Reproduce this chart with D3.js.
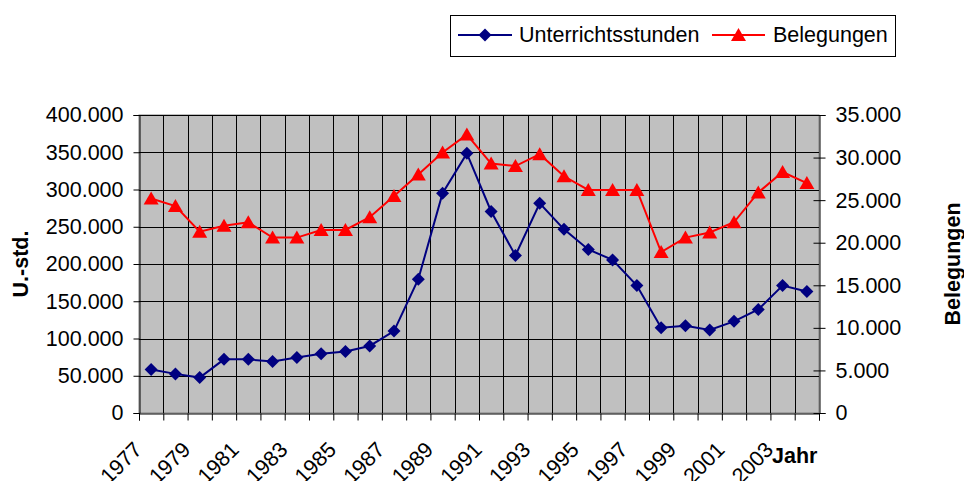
<!DOCTYPE html>
<html>
<head>
<meta charset="utf-8">
<script src="https://cdn.jsdelivr.net/npm/d3@7"></script>
<style>
html, body { margin: 0; padding: 0; background: #fff; }
svg { display: block; font-family: "Liberation Sans", Arial, sans-serif; }
</style>
</head>
<body>
<svg id="chart" width="964" height="481"></svg>
<script>
// ---- data ----
const years = ["1977","1978","1979","1980","1981","1982","1983","1984","1985","1986",
  "1987","1988","1989","1990","1991","1992","1993","1994","1995","1996",
  "1997","1998","1999","2000","2001","2002","2003","2004"];
const unterrichtsstunden = [58500, 52500, 47500, 72000, 72000, 69000, 74500, 79500, 82500, 90000,
  110000, 179500, 295000, 348500, 270500, 211500, 281500, 246500, 219500, 205500,
  171000, 114500, 117000, 111500, 123000, 139000, 171000, 163000];
const belegungen = [25200, 24300, 21300, 22000, 22400, 20600, 20600, 21500, 21500, 23000,
  25500, 28000, 30600, 32700, 29300, 29000, 30400, 27800, 26200, 26200,
  26200, 18900, 20600, 21200, 22400, 25900, 28300, 27000];
const xTickLabels = ["1977","1979","1981","1983","1985","1987","1989","1991","1993","1995","1997","1999","2001","2003"];
const leftTicks = [0, 50000, 100000, 150000, 200000, 250000, 300000, 350000, 400000];
const rightTicks = [0, 5000, 10000, 15000, 20000, 25000, 30000, 35000];
const seriesNames = ["Unterrichtsstunden", "Belegungen"];
const colors = ["#000080", "#FF0000"];

// ---- layout ----
const L = 139, R = 819, T = 115, B = 413;
const FS = 21.5;
const loc = d3.formatLocale({decimal: ",", thousands: ".", grouping: [3], currency: ["", "€"]});
const fmt = loc.format(",d");

const svg = d3.select("#chart");
const x = d3.scaleBand().domain(years).range([L, R]).padding(0);
const xc = d => x(d) + x.bandwidth() / 2;
const yL = d3.scaleLinear().domain([0, 400000]).range([B, T]);
const yR = d3.scaleLinear().domain([0, 35000]).range([B, T]);
const bounds = d3.scaleLinear().domain([0, years.length]).range([L, R]);

// plot background
svg.append("rect").attr("x", L).attr("y", T).attr("width", R - L).attr("height", B - T)
  .attr("fill", "#C0C0C0").attr("stroke", "#808080").attr("stroke-width", 1);

// horizontal gridlines
svg.append("g").selectAll("line").data(leftTicks.filter(v => v > 0)).join("line")
  .attr("x1", L).attr("x2", R)
  .attr("y1", d => Math.round(yL(d)) + 0.5).attr("y2", d => Math.round(yL(d)) + 0.5)
  .attr("stroke", "#000").attr("stroke-width", 1);

// vertical gridlines at category boundaries
svg.append("g").selectAll("line").data(d3.range(1, years.length)).join("line")
  .attr("x1", d => Math.round(bounds(d)) + 0.5).attr("x2", d => Math.round(bounds(d)) + 0.5)
  .attr("y1", T).attr("y2", B)
  .attr("stroke", "#000").attr("stroke-width", 1);

// left axis
const gl = svg.append("g").attr("transform", `translate(${L + 0.5},0)`)
  .call(d3.axisLeft(yL).tickValues(leftTicks).tickFormat(fmt).tickSize(6).tickPadding(10));
gl.select(".domain").attr("stroke", "#000");
gl.selectAll(".tick line").attr("stroke", "#000");
gl.selectAll("text").attr("font-size", FS).attr("font-family", "Liberation Sans, Arial, sans-serif").attr("fill", "#000");

// right axis
const gr = svg.append("g").attr("transform", `translate(${R + 0.5},0)`)
  .call(d3.axisRight(yR).tickValues(rightTicks).tickFormat(fmt).tickSize(6).tickPadding(10));
gr.select(".domain").attr("stroke", "#000");
gr.selectAll(".tick line").attr("x1", -6).attr("stroke", "#000");
gr.selectAll("text").attr("font-size", FS).attr("font-family", "Liberation Sans, Arial, sans-serif").attr("fill", "#000");

// bottom axis (ticks at boundaries)
const gb = svg.append("g").attr("transform", `translate(0,${B + 0.5})`)
  .call(d3.axisBottom(bounds).tickValues(d3.range(0, years.length + 1)).tickFormat("").tickSize(7));
gb.select(".domain").attr("stroke", "#000");
gb.selectAll(".tick line").attr("stroke", "#000");

// x labels (rotated)
svg.append("g").selectAll("text").data(xTickLabels).join("text")
  .attr("transform", d => `translate(${xc(d) - 8},${451}) rotate(-45)`)
  .attr("text-anchor", "end")
  .attr("font-size", FS).attr("fill", "#000")
  .text(d => d);

// axis titles
svg.append("text").attr("transform", `translate(28,264) rotate(-90)`)
  .attr("text-anchor", "middle").attr("font-weight", "bold").attr("font-size", FS).text("U.-std.");
svg.append("text").attr("transform", `translate(960,264) rotate(-90)`)
  .attr("text-anchor", "middle").attr("font-weight", "bold").attr("font-size", FS).text("Belegungen");
svg.append("text").attr("x", 772).attr("y", 463)
  .attr("font-weight", "bold").attr("font-size", FS).text("Jahr");

// series lines
const lineL = d3.line().x((d, i) => xc(years[i])).y(d => yL(d));
const lineR = d3.line().x((d, i) => xc(years[i])).y(d => yR(d));
svg.append("path").attr("d", lineL(unterrichtsstunden)).attr("fill", "none")
  .attr("stroke", colors[0]).attr("stroke-width", 2);
svg.append("path").attr("d", lineR(belegungen)).attr("fill", "none")
  .attr("stroke", colors[1]).attr("stroke-width", 2);

const diamond = "M0,-6.5L6.5,0L0,6.5L-6.5,0Z";
const triangle = "M0,-7L7.5,6L-7.5,6Z";

svg.append("g").selectAll("path").data(unterrichtsstunden).join("path")
  .attr("transform", (d, i) => `translate(${xc(years[i])},${yL(d)})`)
  .attr("d", diamond).attr("fill", colors[0]);
svg.append("g").selectAll("path").data(belegungen).join("path")
  .attr("transform", (d, i) => `translate(${xc(years[i])},${yR(d)})`)
  .attr("d", triangle).attr("fill", colors[1]);

// legend
const lg = svg.append("g");
lg.append("rect").attr("x", 450.5).attr("y", 15.5).attr("width", 445).attr("height", 41)
  .attr("fill", "#fff").attr("stroke", "#000").attr("stroke-width", 1);
const legendItems = [
  {name: seriesNames[0], color: colors[0], shape: diamond, x0: 458, x1: 512, tx: 519},
  {name: seriesNames[1], color: colors[1], shape: triangle, x0: 712, x1: 765, tx: 773}
];
legendItems.forEach(it => {
  lg.append("line").attr("x1", it.x0).attr("x2", it.x1).attr("y1", 35).attr("y2", 35)
    .attr("stroke", it.color).attr("stroke-width", 2);
  lg.append("path").attr("transform", `translate(${(it.x0 + it.x1) / 2},35)`)
    .attr("d", it.shape).attr("fill", it.color);
  lg.append("text").attr("x", it.tx).attr("y", 42).attr("font-size", FS).attr("fill", "#000").text(it.name);
});
</script>
</body>
</html>
